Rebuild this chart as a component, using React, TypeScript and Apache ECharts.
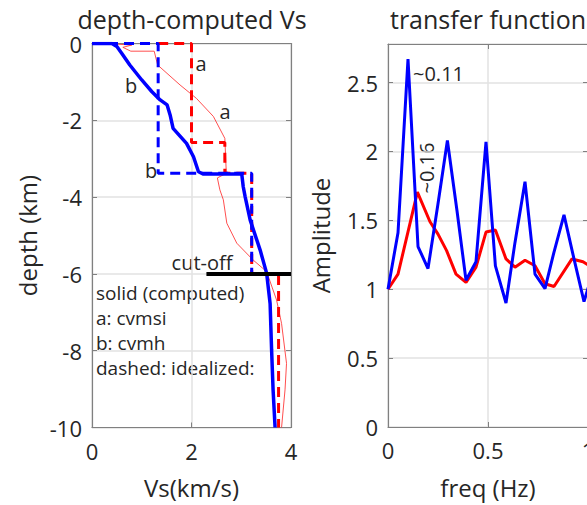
import React, { useEffect, useRef } from "react";
import * as echarts from "echarts";

// ---- left panel: depth profiles [Vs (km/s), depth (km)] ----
const cvmsiComputed: number[][] = [
  [0.3, 0], [0.8, -0.04], [0.62, -0.1], [0.78, -0.2], [1.25, -0.2], [1.32, -0.56],
  [1.77, -1.08], [2.1, -1.43], [2.44, -1.9], [2.67, -2.47], [2.7, -3.38], [2.52, -3.5],
  [2.57, -3.81], [2.64, -4.07], [2.71, -4.68], [2.91, -5.2], [3.24, -5.64], [3.51, -5.94],
  [3.71, -6.68], [3.81, -7.29], [3.91, -8.33], [3.88, -9.02], [3.81, -10],
];
const cvmsiIdealized: number[][] = [
  [1.33, 0], [2.0, 0], [2.0, -2.58], [2.67, -2.58], [2.67, -3.38], [3.21, -3.38],
  [3.21, -6.0], [3.75, -6.0], [3.75, -10],
];
const cvmhIdealized: number[][] = [
  [0, 0], [1.33, 0], [1.33, -3.38], [3.21, -3.38], [3.21, -6.0],
];
const cvmhComputed: number[][] = [
  [0, 0], [0.4, 0], [0.5, -0.08], [0.6, -0.26], [0.76, -0.56], [1.0, -0.95], [1.2, -1.25],
  [1.37, -1.47], [1.51, -1.6], [1.57, -1.86], [1.63, -2.21], [1.9, -2.6], [2.04, -2.95],
  [2.14, -3.34], [2.24, -3.4], [3.01, -3.4], [3.04, -3.73], [3.08, -4.0], [3.18, -4.6],
  [3.38, -5.38], [3.51, -5.98], [3.58, -6.77], [3.61, -7.98], [3.64, -9.02], [3.68, -10],
];
const cutOff: number[][] = [[2.3, -6], [4, -6]];

// ---- right panel: transfer functions ----
const blueFreq = [0, 0.05, 0.1, 0.15, 0.2, 0.25, 0.297, 0.345, 0.39, 0.44, 0.49, 0.537, 0.59,
  0.635, 0.685, 0.735, 0.785, 0.83, 0.88, 0.93, 0.98, 1.03, 1.08];
const blueAmp = [1.0, 1.41, 2.67, 1.31, 1.15, 1.62, 2.08, 1.57, 1.065, 1.2, 2.07, 1.17, 0.9,
  1.34, 1.78, 1.11, 1.005, 1.27, 1.54, 1.22, 0.91, 1.15, 1.4];
const redFreq = [0, 0.05, 0.147, 0.21, 0.25, 0.293, 0.34, 0.39, 0.44, 0.49, 0.537, 0.59, 0.635,
  0.685, 0.735, 0.785, 0.83, 0.92, 0.975, 1.03];
const redAmp = [1.0, 1.11, 1.705, 1.49, 1.4, 1.28, 1.11, 1.05, 1.16, 1.415, 1.43, 1.22, 1.16,
  1.21, 1.17, 1.04, 1.02, 1.22, 1.2, 1.15];

const FONT = "Open Sans";
const TXT = "#262626";
const AXC = "#808080";
const GRIDC = "#e2e2e2";

function mainX(grid: number, min: number, max: number, interval: number, name: string) {
  return {
    gridIndex: grid, type: "value", min, max, interval, position: "bottom",
    name, nameLocation: "middle", nameGap: 48,
    nameTextStyle: { fontSize: 24, color: TXT, fontFamily: FONT },
    axisLine: { show: true, onZero: false, lineStyle: { color: AXC, width: 1.2 } },
    axisTick: { show: true, inside: true, length: 5, lineStyle: { color: AXC } },
    axisLabel: { fontSize: 22, color: TXT, fontFamily: FONT, margin: 12, showMaxLabel: true, showMinLabel: true },
    splitLine: { show: true, lineStyle: { color: GRIDC, width: 1.5 } },
  };
}
function topX(grid: number, min: number, max: number, interval: number) {
  return {
    gridIndex: grid, type: "value", min, max, interval, position: "top",
    axisLine: { show: true, onZero: false, lineStyle: { color: AXC, width: 1.2 } },
    axisTick: { show: true, inside: true, length: 5, lineStyle: { color: AXC } },
    axisLabel: { show: false }, splitLine: { show: false },
  };
}
function mainY(grid: number, min: number, max: number, interval: number, name: string, gap: number, showMax: boolean) {
  return {
    gridIndex: grid, type: "value", min, max, interval, position: "left",
    name, nameLocation: "middle", nameGap: gap, nameRotate: 90,
    nameTextStyle: { fontSize: 24, color: TXT, fontFamily: FONT },
    axisLine: { show: true, onZero: false, lineStyle: { color: AXC, width: 1.2 } },
    axisTick: { show: true, inside: true, length: 5, lineStyle: { color: AXC } },
    axisLabel: { fontSize: 22, color: TXT, fontFamily: FONT, margin: 10, showMaxLabel: showMax, showMinLabel: true },
    splitLine: { show: true, lineStyle: { color: GRIDC, width: 1.5 } },
  };
}
function rightY(grid: number, min: number, max: number, interval: number) {
  return {
    gridIndex: grid, type: "value", min, max, interval, position: "right",
    axisLine: { show: true, onZero: false, lineStyle: { color: AXC, width: 1.2 } },
    axisTick: { show: true, inside: true, length: 5, lineStyle: { color: AXC } },
    axisLabel: { show: false }, splitLine: { show: false },
  };
}

export default function App() {
  const ref = useRef<HTMLDivElement>(null);
  useEffect(() => {
    if (!ref.current) return;
    const chart = echarts.init(ref.current, undefined, { renderer: "svg" });
    const depthLine = (data: number[][], color: string, width: number, dashed: boolean, opacity = 1) => ({
      type: "line", xAxisIndex: 0, yAxisIndex: 0, data, symbol: "none", silent: true,
      lineStyle: { color, width, type: dashed ? [10, 6] : "solid", opacity },
    });
    const txt = (text: string, x: number, y: number, extra: any = {}) => ({
      type: "text", x, y, silent: true,
      style: { text, fontSize: 19, fontFamily: FONT, fill: TXT, textAlign: "left", textVerticalAlign: "middle", ...extra },
    });
    chart.setOption({
      animation: false,
      backgroundColor: "#ffffff",
      grid: [
        { left: 92, top: 43.5, width: 199, height: 384 },
        { left: 388, top: 44, width: 200, height: 383 },
      ],
      xAxis: [
        mainX(0, 0, 4, 2, "Vs(km/s)"),
        topX(0, 0, 4, 2),
        mainX(1, 0, 1, 0.5, "freq (Hz)"),
        topX(1, 0, 1, 0.5),
      ],
      yAxis: [
        mainY(0, -10, 0, 2, "depth (km)", 53, true),
        rightY(0, -10, 0, 2),
        mainY(1, 0, 2.78, 0.5, "Amplitude", 56, false),
        rightY(1, 0, 2.78, 0.5),
      ],
      series: [
        depthLine(cvmsiComputed, "#ff3030", 1, false, 0.85),
        depthLine(cvmsiIdealized, "#ff0000", 3, true),
        depthLine(cvmhIdealized, "#0000ff", 3, true),
        depthLine(cvmhComputed, "#0000ff", 3.5, false),
        depthLine(cutOff, "#000000", 4, false),
        {
          type: "line", xAxisIndex: 2, yAxisIndex: 2, symbol: "none", silent: true,
          data: redFreq.map((f, i) => [f, redAmp[i]]),
          lineStyle: { color: "#ff0000", width: 3 },
        },
        {
          type: "line", xAxisIndex: 2, yAxisIndex: 2, symbol: "none", silent: true,
          data: blueFreq.map((f, i) => [f, blueAmp[i]]),
          lineStyle: { color: "#0000ff", width: 3 },
        },
      ],
      graphic: [
        txt("depth-computed Vs", 192, 19, { fontSize: 25, textAlign: "center" }),
        txt("transfer function", 488, 19, { fontSize: 25, textAlign: "center" }),
        txt("a", 201, 63, { fontSize: 20, textAlign: "center" }),
        txt("a", 225, 111, { fontSize: 20, textAlign: "center" }),
        txt("b", 131, 85, { fontSize: 20, textAlign: "center" }),
        txt("b", 151, 170, { fontSize: 20, textAlign: "center" }),
        txt("cut-off", 202, 262, { fontSize: 20, textAlign: "center" }),
        txt("solid (computed)", 96, 293),
        txt("a: cvmsi", 96, 318),
        txt("b: cvmh", 96, 343),
        txt("dashed: idealized:", 96, 368),
        txt("~0.11", 413, 73, { fontSize: 20 }),
        { type: "text", x: 426, y: 168, rotation: Math.PI / 2, silent: true,
          style: { text: "~0.16", fontSize: 20, fontFamily: FONT, fill: TXT, textAlign: "center", textVerticalAlign: "middle" } },
      ],
    });
    return () => chart.dispose();
  }, []);
  return (
    <div style={{ position: "fixed", left: 0, top: 0, width: 587, height: 505, overflow: "hidden", background: "#fff" }}>
      <div ref={ref} style={{ width: 640, height: 505 }} />
    </div>
  );
}
